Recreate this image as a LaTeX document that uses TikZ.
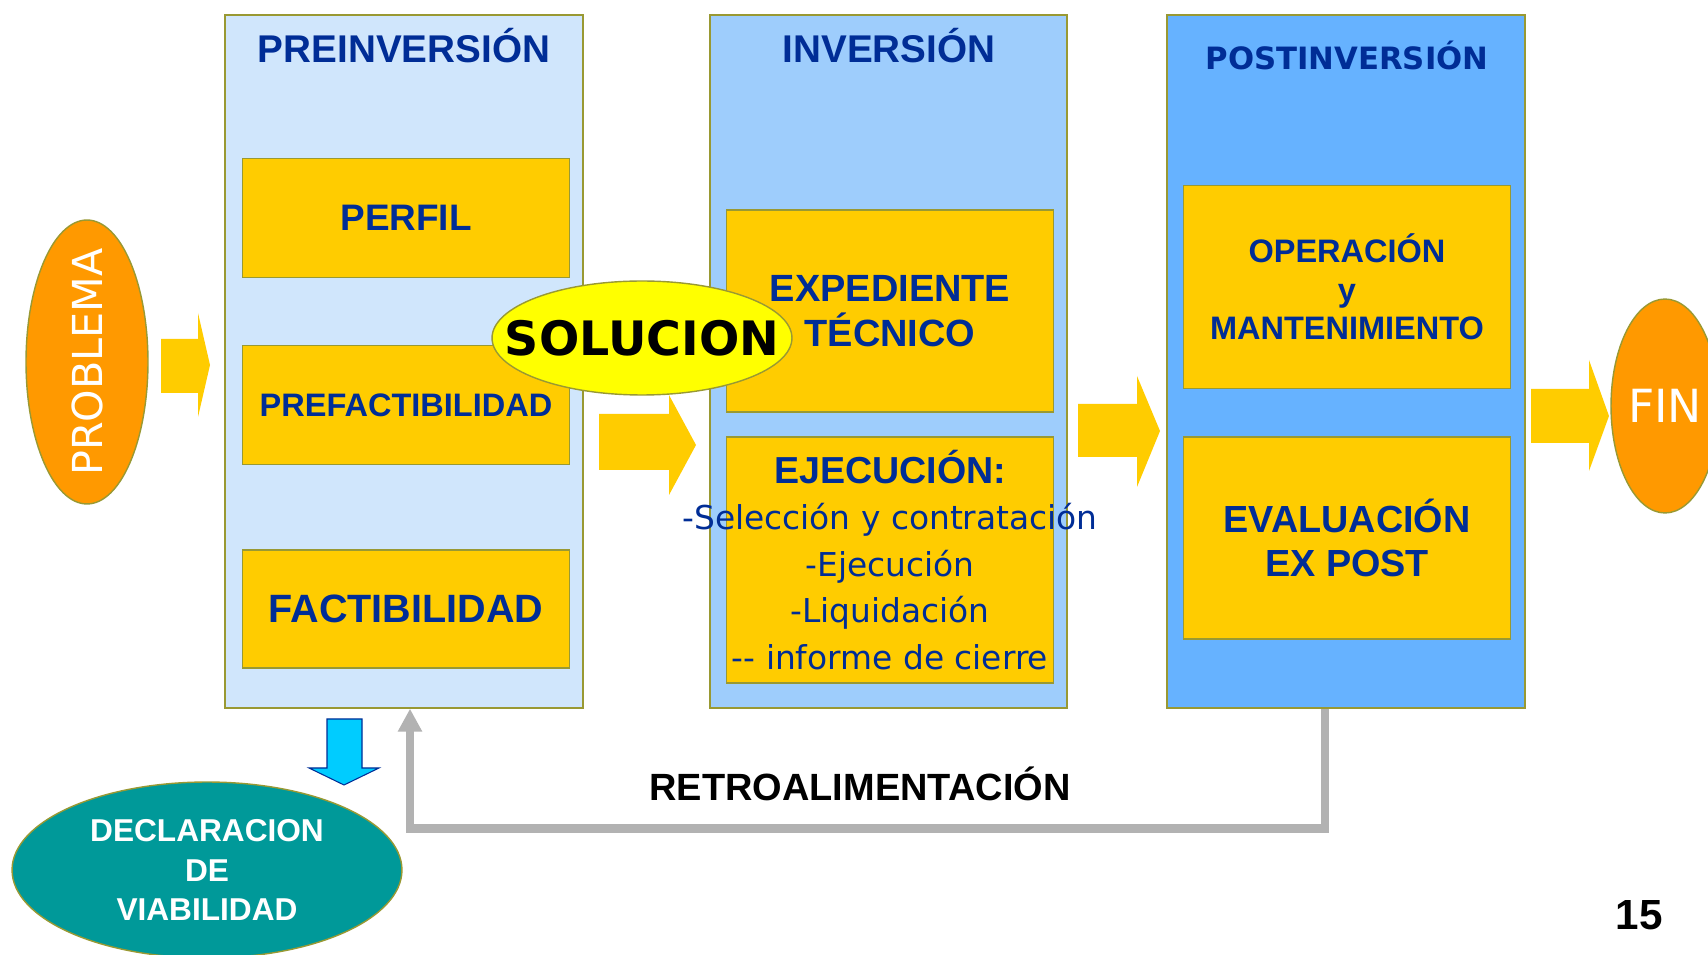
\documentclass[tikz,border=0pt]{standalone}
\usepackage{fontspec}
\setmainfont{Liberation Sans}
\newfontfamily\verdfont{DejaVu Sans}
\usetikzlibrary{shapes.geometric,fit,arrows.meta,positioning}

\definecolor{preblue}{RGB}{208,230,252}
\definecolor{invblue}{RGB}{158,205,252}
\definecolor{postblue}{RGB}{102,178,255}
\definecolor{olive}{RGB}{153,153,51}
\definecolor{stageyellow}{RGB}{255,204,0}
\definecolor{navy}{RGB}{0,45,150}
\definecolor{orangeball}{RGB}{255,153,0}
\definecolor{lemon}{RGB}{255,255,0}
\definecolor{tealball}{RGB}{0,153,153}
\definecolor{skyblue}{RGB}{0,204,255}
\definecolor{feedgray}{RGB}{178,178,178}

\newcommand{\sz}[2]{\fontsize{#1}{#2}\selectfont}

\begin{document}
\begin{tikzpicture}[x=0.02cm,y=-0.02cm,
  panel/.style={draw=olive,line width=0.8pt,inner sep=0pt},
  stage/.style={draw=olive,fill=stageyellow,line width=0.8pt,inner sep=0pt,align=center,text=navy,minimum width=6.55cm},
  phase/.style={text=navy,anchor=base,font=\bfseries\sz{22}{26}},
  ball/.style={ellipse,draw=olive,line width=0.8pt,inner sep=0pt},
  fatarrow/.style={fill=stageyellow},
  feedback/.style={draw=feedgray,line width=4.8pt,-{Triangle[width=13pt,length=13pt]}}]

\useasboundingbox (0,0) rectangle (1708,955);
\fill[white] (0,0) rectangle (1708,955);

% the three phases
\node[panel,fill=preblue,fit={(225,15) (583,708)}] (pre) {};
\node[panel,fill=invblue,fit={(710,15) (1067,708)}] (inv) {};
\node[panel,fill=postblue,fit={(1167,15) (1525,708)}] (post) {};

\node[phase] (pretitle) at (404,63) {PREINVERSIÓN};
\node[phase] (invtitle) at (889,63) {INVERSIÓN};
\node[phase,font=\verdfont\bfseries\sz{17.5}{21}] (posttitle) at (1347,70) {POSTINVERSIÓN};

% stages
\node[stage,minimum height=2.38cm,font=\bfseries\sz{21}{25}] (perfil) at (406,218) {PERFIL};
\node[stage,minimum height=2.38cm,font=\bfseries\sz{18.5}{22}] (prefact) at (406,405) {PREFACTIBILIDAD};
\node[stage,minimum height=2.36cm,font=\bfseries\sz{22.5}{26}] (fact) at (406,609) {FACTIBILIDAD};
\node[stage,minimum height=4.04cm,font=\bfseries\sz{21.6}{26}] (exped) at (890,311) {EXPEDIENTE\\TÉCNICO};
\node[stage,minimum height=4.92cm] (ejec) at (890,560) {};
\node[align=center,text=navy,font=\verdfont\sz{18.7}{26.5}] (ejectext) at (ejec.center)
  {{\rmfamily\bfseries\sz{21.4}{27}EJECUCIÓN:}\\-Selección y contratación\\-Ejecución\\-Liquidación\\-{}- informe de cierre};
\node[stage,minimum height=4.06cm,font=\bfseries\sz{18.5}{22}] (opera) at (1347,287) {OPERACIÓN\\y\\MANTENIMIENTO};
\node[stage,minimum height=4.04cm,font=\bfseries\sz{21.5}{25}] (evalu) at (1347,538) {EVALUACIÓN\\EX POST};

% big yellow arrows
\fill[fatarrow] (161,339) -- (198,339) -- (198,313) -- (210,365) -- (198,417) -- (198,393) -- (161,393) -- cycle;
\fill[fatarrow] (599,414) -- (669,414) -- (669,395) -- (696,445) -- (669,495) -- (669,470) -- (599,470) -- cycle;
\fill[fatarrow] (1078,404) -- (1137,404) -- (1137,376) -- (1160,431) -- (1137,487) -- (1137,457) -- (1078,457) -- cycle;
\fill[fatarrow] (1531,389) -- (1589,389) -- (1589,360) -- (1609,416) -- (1589,471) -- (1589,443) -- (1531,443) -- cycle;

% ellipses
\node[ball,fill=orangeball,minimum width=2.44cm,minimum height=5.68cm] (problema) at (87,362) {};
\node[rotate=90,text=white,font=\verdfont\sz{23.5}{28}] (problemalabel) at (problema) {PROBLEMA};
\node[ball,fill=orangeball,minimum width=2.16cm,minimum height=4.28cm] (fin) at (1665,406) {};
\node[text=white,font=\verdfont\sz{26}{30}] (finlabel) at (fin) {FIN};
\node[ball,fill=lemon,minimum width=6cm,minimum height=2.28cm] (solucion) at (642,338) {};
\node[font=\verdfont\bfseries\sz{27}{32}] (solucionlabel) at (solucion) {SOLUCION};
\node[ball,fill=tealball,minimum width=7.8cm,minimum height=3.52cm] (declara) at (207,870) {};
\node[text=white,align=center,font=\bfseries\sz{18}{22.7}] (declaralabel) at (declara) {DECLARACION\\DE\\VIABILIDAD};

% down to the declaration
\draw[draw=navy,fill=skyblue,line width=0.6pt] (327,719) -- (362,719) -- (362,768) -- (379,768) -- (344,785) -- (309,768) -- (327,768) -- cycle;

% feedback
\draw[feedback] ([xshift=-0.42cm]post.south) -- ++(0,120) -| ([xshift=0.12cm]pre.south);
\node[anchor=base,font=\bfseries\sz{21.6}{26}] (retro) at (860,801) {RETROALIMENTACIÓN};

\node[font=\bfseries\sz{24}{28}] (pagenum) at (1639,915) {15};
\end{tikzpicture}
\end{document}
